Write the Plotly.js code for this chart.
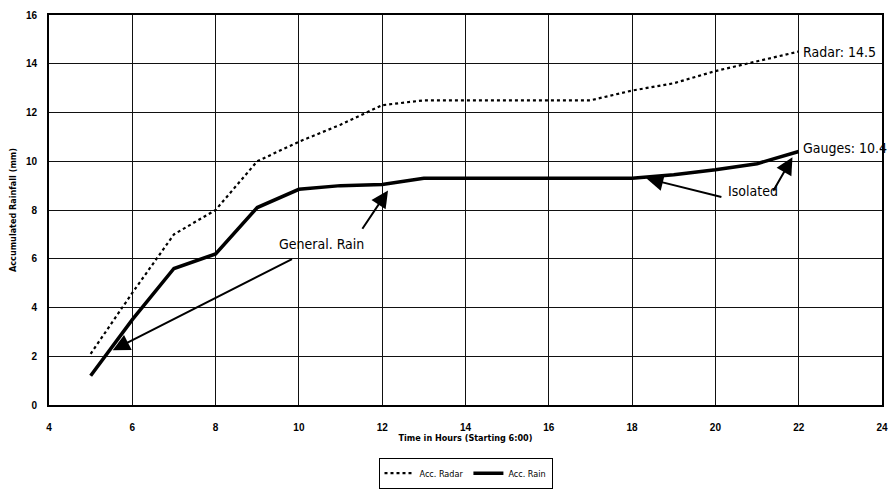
<!DOCTYPE html>
<html>
<head>
<meta charset="utf-8">
<script src="https://cdn.plot.ly/plotly-3.0.1.min.js"></script>
<style>
  html, body { margin: 0; padding: 0; background: #fff; }
  #chart { width: 891px; height: 494px; }
</style>
</head>
<body>
<div id="chart"></div>
<script>
// Hours since the start of the event
const hours = [5, 6, 7, 8, 9, 10, 11, 12, 13, 14, 15, 16, 17, 18, 19, 20, 21, 22];
// Accumulated rainfall estimated by radar (mm)
const accRadar = [2.1, 4.6, 7.0, 8.0, 10.0, 10.8, 11.5, 12.3, 12.5, 12.5, 12.5, 12.5, 12.5, 12.9, 13.2, 13.7, 14.1, 14.5];
// Accumulated rainfall measured by gauges (mm)
const accRain = [1.2, 3.5, 5.6, 6.2, 8.1, 8.85, 9.0, 9.05, 9.3, 9.3, 9.3, 9.3, 9.3, 9.3, 9.45, 9.65, 9.9, 10.4];

const xTicks = [4, 6, 8, 10, 12, 14, 16, 18, 20, 22, 24];
const yTicks = [0, 2, 4, 6, 8, 10, 12, 14, 16];

const lastRadar = accRadar[accRadar.length - 1];
const lastRain = accRain[accRain.length - 1];

const narrow = 'DejaVu Sans Condensed, Liberation Sans Narrow, Arial Narrow, sans-serif';
const labelFont = { family: narrow, size: 14, color: '#000' };
const arrowStyle = { showarrow: true, arrowhead: 2, arrowsize: 1.7, arrowwidth: 2, arrowcolor: '#000', axref: 'x', ayref: 'y', text: '' };
const tickFont = { family: 'Liberation Sans, Arial, sans-serif', size: 10, color: '#000', weight: 'bold' };
const titleFont = { family: narrow, size: 9, color: '#000', weight: 'bold' };

const traces = [
  {
    x: hours, y: accRadar, name: 'Acc. Radar', mode: 'lines',
    line: { color: '#000', width: 2.2, dash: 'dot' }
  },
  {
    x: hours, y: accRain, name: 'Acc. Rain', mode: 'lines',
    line: { color: '#000', width: 3.5 }
  }
];

const layout = {
  width: 891, height: 494,
  margin: { l: 49, r: 9, t: 15, b: 89, autoexpand: false },
  paper_bgcolor: '#fff', plot_bgcolor: '#fff',
  font: { family: 'Liberation Sans, Arial, sans-serif', color: '#000' },
  showlegend: true,
  legend: {
    orientation: 'h', x: 0.5, xanchor: 'center', y: -0.135, yanchor: 'top',
    bordercolor: '#000', borderwidth: 1, bgcolor: '#fff',
    font: { family: narrow, size: 9, color: '#000' },
    itemwidth: 30, tracegroupgap: 0
  },
  xaxis: {
    range: [4, 24], tickvals: xTicks, ticktext: xTicks.map(String),
    showgrid: true, gridcolor: '#111', gridwidth: 1,
    showline: true, linecolor: '#000', linewidth: 2, mirror: true,
    zeroline: false, ticks: '', ticklen: 0, automargin: false,
    ticklabelstandoff: 12, ticklabeloverflow: 'allow',
    tickfont: tickFont,
    title: { text: 'Time in Hours (Starting 6:00)', standoff: 0, font: titleFont }
  },
  yaxis: {
    range: [0, 16], tickvals: yTicks, ticktext: yTicks.map(String),
    showgrid: true, gridcolor: '#111', gridwidth: 1,
    showline: true, linecolor: '#000', linewidth: 2, mirror: true,
    zeroline: false, ticks: '', ticklen: 0, automargin: false,
    ticklabelstandoff: 8, ticklabeloverflow: 'allow',
    tickfont: tickFont,
    title: { text: 'Accumulated Rainfall (mm)', standoff: 8, font: titleFont }
  },
  annotations: [
    { x: 22.05, y: lastRadar, xref: 'x', yref: 'y', xanchor: 'left', yanchor: 'middle',
      text: 'Radar: ' + lastRadar, showarrow: false, font: labelFont },
    { x: 22.05, y: lastRain + 0.15, xref: 'x', yref: 'y', xanchor: 'left', yanchor: 'middle',
      text: 'Gauges: ' + lastRain, showarrow: false, font: labelFont },
    { x: 10.55, y: 6.6, xref: 'x', yref: 'y', text: 'General. Rain', showarrow: false, font: labelFont },
    { x: 20.9, y: 8.8, xref: 'x', yref: 'y', text: 'Isolated', showarrow: false, font: labelFont },
    Object.assign({ x: 12.14, y: 8.8, ax: 11.5, ay: 7.17 }, arrowStyle),
    Object.assign({ x: 5.53, y: 2.25, ax: 9.87, ay: 6.02 }, arrowStyle),
    Object.assign({ x: 18.34, y: 9.3, ax: 20.18, ay: 8.52 }, arrowStyle),
    Object.assign({ x: 21.85, y: 10.16, ax: 21.37, ay: 8.73 }, arrowStyle)
  ]
};

Plotly.newPlot('chart', traces, layout, { displayModeBar: false, staticPlot: true });
</script>
</body>
</html>
